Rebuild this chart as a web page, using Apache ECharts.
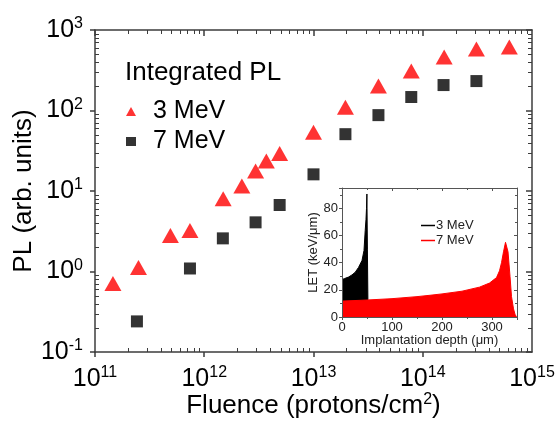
<!DOCTYPE html>
<html><head><meta charset="utf-8">
<script src="https://cdn.jsdelivr.net/npm/echarts@6/dist/echarts.min.js"></script>
<style>
html,body{margin:0;padding:0;background:#fff}
#wrap{position:relative;width:558px;height:425px}
.layer{position:absolute;left:0;top:0;width:558px;height:425px}
</style>
</head><body><div id="wrap">
<div id="main" class="layer"></div>
<div id="inset" class="layer"></div>
<div id="frameMain" class="layer"></div>
<div id="frameInset" class="layer"></div>
</div>
<script>
// Main chart data (integrated PL vs fluence)
const fluence3 = [1.46e11, 2.5e11, 4.9e11, 7.4e11, 1.49e12, 2.21e12, 2.95e12, 3.7e12, 4.9e12, 1.0e13, 1.96e13, 3.93e13, 7.85e13, 1.57e14, 3.1e14, 6.2e14];
const pl3 = [0.71, 1.12, 2.8, 3.24, 8.0, 11.5, 17.7, 23.6, 29.2, 53.8, 110, 201, 310, 462, 582, 615];
const fluence7 = [2.42e11, 7.4e11, 1.48e12, 2.95e12, 4.9e12, 1.0e13, 1.96e13, 3.93e13, 7.85e13, 1.55e14, 3.1e14];
const pl7 = [0.24, 1.09, 2.58, 4.08, 6.7, 16.1, 50.8, 87.6, 147, 207, 232];
const xTickExps = [11, 12, 13, 14, 15];
const yTickExps = [-1, 0, 1, 2, 3];
const minorMultipliers = [2, 3, 4, 5, 6, 7, 8, 9];
// Inset data (LET vs implantation depth)
const depth3 = [0, 5, 13, 20, 26.5, 33, 40, 44, 46.4, 48, 49, 49.8, 50.8, 51.8, 52.5];
const let3 = [27.5, 28.3, 29.4, 31, 33, 36.5, 41.6, 49, 63.6, 72, 80, 90.6, 50, 12.7, 0];
const depth7 = [0, 50, 100, 150, 176, 200, 240, 275, 295, 309, 315, 319, 323, 327, 329, 332, 336, 339, 343, 346, 349];
const let7 = [11.7, 12.5, 13.5, 15, 16, 17, 19, 22, 25, 29, 34, 40, 48, 55, 54, 48, 30, 15, 6, 2, 0];
const insetXTicks = [0, 100, 200, 300];
const insetYTicks = [0, 20, 40, 60, 80];
const insetXRange = [0, 350];
const insetYRange = [0, 95];

const FONT = 'Arial, "Liberation Sans", sans-serif';
const AX = '#3c3c3c';
const IN = '#555';
const CLEAR = 'rgba(0,0,0,0)';
const xMin = Math.pow(10, xTickExps[0]), xMax = Math.pow(10, xTickExps[xTickExps.length - 1]);
const yMin = Math.pow(10, yTickExps[0]), yMax = Math.pow(10, yTickExps[yTickExps.length - 1]);
const MAIN_GRID = { left: 95, top: 30, width: 437, height: 322, outerBoundsMode: 'none' };
const INSET_GRID = { left: 342, top: 188, width: 175, height: 129, outerBoundsMode: 'none' };

const supRich = {
  b: { fontSize: 25, fontFamily: FONT, color: '#000' },
  s: { fontSize: 16, fontFamily: FONT, color: '#000', padding: [0, 0, 12, 0] }
};
function expLabel(list) {
  return function (v) {
    const e = Math.round(Math.log10(v));
    return list.indexOf(e) >= 0 ? '{b|10}{s|' + e + '}' : '';
  };
}
function pickLabel(list) {
  return function (v) { return list.indexOf(v) >= 0 ? String(v) : ''; };
}
const noLine = { show: false, onZero: false };
const noTick = { show: false };

// ---------- Layer 1: main plot content (labels, names, markers, legend) ----------
const main = echarts.init(document.getElementById('main'));
main.setOption({
  animation: false, backgroundColor: CLEAR,
  title: {
    text: 'Integrated PL', left: 120, top: 55,
    textStyle: { fontSize: 26, fontWeight: 'normal', color: '#000', fontFamily: FONT }
  },
  legend: {
    data: ['3 MeV', '7 MeV'], orient: 'vertical', left: 121, top: 94,
    itemWidth: 10, itemHeight: 9, itemGap: 5,
    textStyle: { fontSize: 25, color: '#000', fontFamily: FONT, padding: [0, 0, 0, 12] },
    selectedMode: false
  },
  grid: MAIN_GRID,
  xAxis: {
    type: 'log', min: xMin, max: xMax, splitLine: { show: false }, nameMoveOverlap: false,
    name: '{t|Fluence (protons/cm}{u|2}{t|)}', nameLocation: 'middle', nameGap: 40,
    nameTextStyle: { rich: {
      t: { fontSize: 26, fontFamily: FONT, color: '#000' },
      u: { fontSize: 16, fontFamily: FONT, color: '#000', padding: [0, 0, 12, 0] } } },
    axisLine: noLine, axisTick: noTick,
    axisLabel: { formatter: expLabel(xTickExps), margin: 13, rich: supRich }
  },
  yAxis: {
    type: 'log', min: yMin, max: yMax, splitLine: { show: false }, nameMoveOverlap: false,
    name: 'PL (arb. units)', nameLocation: 'middle', nameGap: 58,
    nameTextStyle: { fontSize: 26, color: '#000', fontFamily: FONT },
    axisLine: noLine, axisTick: noTick,
    axisLabel: { formatter: expLabel(yTickExps), margin: 12, rich: supRich }
  },
  series: [
    {
      name: '3 MeV', type: 'scatter',
      symbol: 'triangle', symbolSize: [17, 15], itemStyle: { color: '#ff0000' },
      data: fluence3.map((f, i) => [f, pl3[i]])
    },
    {
      name: '7 MeV', type: 'scatter',
      symbol: 'rect', symbolSize: 12, itemStyle: { color: '#000' },
      data: fluence7.map((f, i) => [f, pl7[i]])
    }
  ]
});

// ---------- Layer 2: inset content ----------
const inset = echarts.init(document.getElementById('inset'));
inset.setOption({
  animation: false, backgroundColor: CLEAR,
  legend: {
    data: ['3 MeV', '7 MeV'], orient: 'vertical', left: 416, top: 214,
    icon: 'rect', itemWidth: 14, itemHeight: 1.5, itemGap: 2,
    textStyle: { fontSize: 13, color: '#222', fontFamily: FONT, padding: [0, 0, 0, -4] },
    selectedMode: false
  },
  grid: INSET_GRID,
  xAxis: {
    type: 'value', min: insetXRange[0], max: insetXRange[1], interval: 100,
    name: 'Implantation depth (\u03bcm)', nameLocation: 'middle', nameGap: 17, nameMoveOverlap: false,
    nameTextStyle: { fontSize: 13, color: '#222', fontFamily: FONT },
    splitLine: { show: false }, axisLine: noLine, axisTick: noTick,
    axisLabel: { fontSize: 13, color: '#222', fontFamily: FONT, margin: 4, formatter: pickLabel(insetXTicks) }
  },
  yAxis: {
    type: 'value', min: insetYRange[0], max: insetYRange[1], interval: 20,
    name: 'LET (keV/\u03bcm)', nameLocation: 'middle', nameGap: 22, nameMoveOverlap: false,
    nameTextStyle: { fontSize: 13, color: '#222', fontFamily: FONT },
    splitLine: { show: false }, axisLine: noLine, axisTick: noTick,
    axisLabel: { fontSize: 13, color: '#222', fontFamily: FONT, margin: 4, formatter: pickLabel(insetYTicks) }
  },
  series: [
    {
      name: '3 MeV', type: 'line', z: 2,
      symbol: 'none', lineStyle: { color: '#000', width: 1 }, itemStyle: { color: '#000' },
      areaStyle: { color: '#000', opacity: 1 },
      data: depth3.map((d, i) => [d, let3[i]])
    },
    {
      name: '7 MeV', type: 'line', z: 3,
      symbol: 'none', lineStyle: { color: '#ff0000', width: 1 }, itemStyle: { color: '#ff0000' },
      areaStyle: { color: '#ff0000', opacity: 1 },
      data: depth7.map((d, i) => [d, let7[i]])
    }
  ]
});

// ---------- Layer 3: main plot frame (axis lines and ticks on all four sides) ----------
function frameAxis(type, pos, min, max, color, width, inside, len, extra) {
  return Object.assign({
    type: type, position: pos, min: min, max: max,
    splitLine: { show: false },
    axisLine: { show: true, onZero: false, lineStyle: { color: color, width: width } },
    axisTick: { show: true, inside: inside, length: len, lineStyle: { color: color, width: width } },
    axisLabel: { show: true, color: CLEAR }
  }, extra || {});
}
const frameMain = echarts.init(document.getElementById('frameMain'));
frameMain.setOption({
  animation: false, backgroundColor: CLEAR,
  grid: MAIN_GRID,
  xAxis: [
    frameAxis('log', 'bottom', xMin, xMax, AX, 1.5, false, 5),
    frameAxis('log', 'top', xMin, xMax, AX, 1.5, true, 6)
  ],
  yAxis: [
    frameAxis('log', 'left', yMin, yMax, AX, 1.5, false, 5),
    frameAxis('log', 'right', yMin, yMax, AX, 1.5, true, 6)
  ]
});
// minor log ticks (2..9 in each decade), placed through the frame's log axes
(function () {
  const els = [];
  const yBot = frameMain.convertToPixel({ yAxisIndex: 0 }, yMin);
  const yTop = frameMain.convertToPixel({ yAxisIndex: 0 }, yMax);
  const xL = frameMain.convertToPixel({ xAxisIndex: 0 }, xMin);
  const xR = frameMain.convertToPixel({ xAxisIndex: 0 }, xMax);
  const st = function () { return { stroke: AX, lineWidth: 1 }; };
  xTickExps.slice(0, -1).forEach(function (e) {
    minorMultipliers.forEach(function (m) {
      const x = Math.round(frameMain.convertToPixel({ xAxisIndex: 0 }, m * Math.pow(10, e))) + 0.5;
      els.push({ type: 'line', silent: true, shape: { x1: x, y1: yBot, x2: x, y2: yBot - 4 }, style: st() });
      els.push({ type: 'line', silent: true, shape: { x1: x, y1: yTop, x2: x, y2: yTop + 4 }, style: st() });
    });
  });
  yTickExps.slice(0, -1).forEach(function (e) {
    minorMultipliers.forEach(function (m) {
      const y = Math.round(frameMain.convertToPixel({ yAxisIndex: 0 }, m * Math.pow(10, e))) + 0.5;
      els.push({ type: 'line', silent: true, shape: { x1: xL, y1: y, x2: xL + 4, y2: y }, style: st() });
      els.push({ type: 'line', silent: true, shape: { x1: xR, y1: y, x2: xR - 4, y2: y }, style: st() });
    });
  });
  frameMain.setOption({ graphic: { elements: els } });
})();

// ---------- Layer 4: inset frame ----------
const frameInset = echarts.init(document.getElementById('frameInset'));
const insetMinor = { minorTick: { show: true, splitNumber: 2, length: 2, lineStyle: { color: IN, width: 1 } } };
frameInset.setOption({
  animation: false, backgroundColor: CLEAR,
  grid: INSET_GRID,
  xAxis: [
    frameAxis('value', 'bottom', insetXRange[0], insetXRange[1], IN, 1, false, 3, Object.assign({ interval: 100 }, insetMinor)),
    frameAxis('value', 'top', insetXRange[0], insetXRange[1], IN, 1, true, 3, Object.assign({ interval: 100 }, insetMinor))
  ],
  yAxis: [
    frameAxis('value', 'left', insetYRange[0], insetYRange[1], IN, 1, false, 3, Object.assign({ interval: 20 }, insetMinor)),
    frameAxis('value', 'right', insetYRange[0], insetYRange[1], IN, 1, true, 3, Object.assign({ interval: 20 }, insetMinor))
  ]
});
</script>
</body></html>
